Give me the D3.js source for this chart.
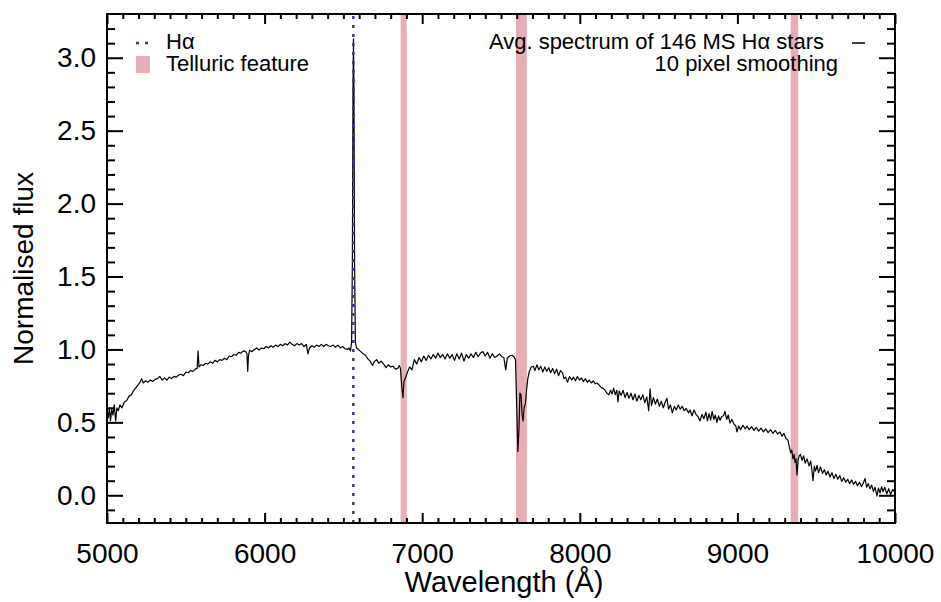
<!DOCTYPE html>
<html>
<head>
<meta charset="utf-8">
<script src="https://cdn.jsdelivr.net/npm/d3@7"></script>
<style>
  body { margin: 0; background: #fff; }
  text { font-family: "Liberation Sans", Arial, Helvetica, sans-serif; fill: #000; }
</style>
</head>
<body>
<div id="chart"></div>
<script>
// wavelength (A) and normalised flux, one line per stretch
const wave = [
  5000,5008,5015,5022,5030,5038,5046,5055,5063,5072,5082,5095,5110,5125,5140,5155,5170,5185,5200,
  5212,5220,5230,5245,5260,5275,5290,5305,5320,5335,5350,5365,5380,5395,5410,5425,5440,5455,5470,5485,5500,5515,5530,5545,5560,
  5572,5578,5584,5595,5610,5625,5640,5655,5670,5685,5700,5715,5730,5745,5760,5775,5790,5805,5820,5835,5850,5865,5880,
  5888,5893,5898,5905,5920,5935,5950,5965,5980,5995,6010,6025,6040,6055,6070,6085,6100,6115,6130,6145,6160,6175,6190,6205,6220,6235,6250,6265,
  6275,6285,6300,6315,6330,6345,6360,6375,6390,6405,6420,6435,6450,6465,6480,6495,6510,6525,6535,6545,6552,6557,6561,6564,6567,6571,6576,6583,
  6595,6610,6625,6640,6655,6670,6685,6695,6710,6725,6740,6755,6770,6785,6800,6815,6830,6845,6855,6862,6870,6878,6884,6892,6905,
  6920,6935,6950,6965,6980,6995,7010,7025,7040,7055,7070,7085,7100,7115,7130,7145,7160,7175,7190,7205,7220,7235,7250,7265,7280,7295,7310,7325,7340,7355,7370,7385,7400,7415,7430,7445,7460,7475,7490,7505,
  7518,7530,7540,7555,7570,7582,7592,7600,7607,7614,7620,7627,7634,7640,7647,7655,7662,7670,
  7680,7692,7705,7715,7728,7740,7752,7765,7778,7790,7803,7815,7828,7840,7853,7865,7878,7890,7900,7910,7922,7935,7948,7960,7972,7985,7998,8010,8023,8035,8048,8060,8073,8085,8098,8110,
  8123,8135,8147,8160,8172,8185,8195,8205,8215,8225,8235,8242,8250,8262,8275,8287,8300,8312,8325,8337,8350,8362,8375,8387,8400,8412,8425,8437,8446,8455,8467,8480,8492,8505,8517,8530,8542,8553,8563,8575,8587,8600,8612,8625,8637,8650,8662,8675,8690,8700,8712,8725,8737,8750,8763,8775,8787,8800,8810,8820,8830,8840,8850,8860,8870,8880,8890,8900,
  8912,8921,8932,8942,8953,8965,8977,8990,8997,9008,9020,9035,9050,9061,9075,9090,9105,9120,9135,9150,9165,9180,9195,9210,9226,9240,9255,9270,9283,9295,9308,9320,
  9330,9338,9345,9353,9360,9366,9372,9378,9385,9392,9400,9410,9420,9430,9442,9455,9465,9472,9480,9488,9496,9505,9515,9527,9540,9552,9563,9575,9588,9600,9612,9625,9637,9650,9662,9675,9687,9700,9712,9725,9737,9750,9762,9775,9787,9800,9810,9820,9830,9841,9852,9863,9873,9886,9895,9905,9915,9924,9935,9948,9960,9972,9985,10000
]
const flux = [
  0.58,0.53,0.60,0.51,0.59,0.55,0.62,0.51,0.60,0.58,0.62,0.60,0.64,0.65,0.68,0.69,0.72,0.74,0.76,
  0.78,0.80,0.77,0.785,0.775,0.79,0.78,0.795,0.80,0.815,0.79,0.805,0.79,0.81,0.80,0.815,0.81,0.825,0.83,0.82,0.845,0.84,0.855,0.85,0.865,
  0.87,0.99,0.88,0.895,0.89,0.905,0.90,0.915,0.905,0.925,0.915,0.93,0.925,0.94,0.93,0.955,0.95,0.965,0.96,0.98,0.975,0.99,0.985,
  0.97,0.85,0.96,0.995,0.985,1.00,1.01,0.995,1.01,1.005,1.02,1.01,1.025,1.015,1.03,1.02,1.035,1.025,1.04,1.03,1.05,1.035,1.025,1.04,1.03,1.04,1.02,1.035,
  0.97,1.01,1.025,1.015,1.03,1.02,1.035,1.02,1.035,1.025,1.02,1.03,1.015,1.03,1.01,1.02,1.005,1.00,1.01,0.99,1.05,1.6,2.8,3.13,2.8,1.6,1.05,1.01,
  1.00,0.985,0.97,0.96,0.935,0.92,0.89,0.915,0.93,0.905,0.92,0.90,0.875,0.895,0.88,0.885,0.865,0.87,0.89,0.87,0.75,0.67,0.78,0.80,0.84,
  0.88,0.86,0.93,0.90,0.945,0.915,0.955,0.925,0.96,0.935,0.965,0.94,0.975,0.945,0.965,0.935,0.97,0.94,0.965,0.925,0.97,0.935,0.975,0.92,0.965,0.94,0.97,0.945,0.98,0.95,0.975,0.985,0.955,0.98,0.94,0.97,0.945,0.955,0.97,0.95,
  0.945,0.86,0.94,0.955,0.96,0.95,0.93,0.60,0.30,0.45,0.70,0.69,0.55,0.51,0.60,0.63,0.72,0.80,
  0.85,0.88,0.885,0.855,0.895,0.86,0.885,0.845,0.88,0.85,0.875,0.84,0.87,0.835,0.865,0.82,0.855,0.84,0.80,0.81,0.775,0.815,0.79,0.81,0.785,0.815,0.79,0.805,0.78,0.80,0.775,0.79,0.77,0.785,0.765,0.77,
  0.755,0.74,0.735,0.72,0.70,0.69,0.72,0.695,0.735,0.69,0.72,0.64,0.715,0.685,0.72,0.67,0.705,0.665,0.70,0.655,0.695,0.645,0.685,0.655,0.69,0.635,0.675,0.58,0.73,0.615,0.67,0.625,0.66,0.61,0.645,0.60,0.64,0.665,0.59,0.62,0.565,0.61,0.585,0.62,0.59,0.61,0.58,0.595,0.565,0.585,0.545,0.585,0.555,0.54,0.51,0.555,0.525,0.57,0.51,0.56,0.515,0.575,0.52,0.55,0.50,0.545,0.515,0.54,
  0.545,0.575,0.52,0.55,0.495,0.52,0.49,0.475,0.435,0.475,0.45,0.48,0.455,0.475,0.45,0.47,0.445,0.465,0.44,0.46,0.435,0.455,0.43,0.45,0.425,0.445,0.42,0.435,0.405,0.425,0.39,0.38,
  0.33,0.29,0.31,0.25,0.28,0.225,0.25,0.14,0.24,0.27,0.28,0.24,0.27,0.22,0.25,0.20,0.235,0.18,0.10,0.20,0.165,0.205,0.155,0.195,0.15,0.175,0.14,0.165,0.125,0.155,0.115,0.145,0.11,0.135,0.095,0.12,0.09,0.11,0.08,0.105,0.075,0.095,0.065,0.09,0.06,0.085,0.115,0.055,0.08,0.045,0.07,0.025,0.055,-0.005,0.05,0.015,0.06,0.025,0.055,0.01,0.045,0.005,0.04,0.02
]

// telluric bands [start, end] in A
const telluric = [[6863, 6902], [7595, 7664], [9338, 9386]]
const halpha = 6563

const xTicks = [5000, 6000, 7000, 8000, 9000, 10000]
const yTicks = [0, 0.5, 1.0, 1.5, 2.0, 2.5, 3.0]

const data = wave.map((w, i) => ({w: w, f: flux[i]}))

const width = 941
const height = 602
const pLeft = 107, pRight = 895, pTop = 14, pBottom = 523

const svg = d3.select("#chart")
  .append("svg")
  .attr("width", width)
  .attr("height", height)

const x = d3.scaleLinear()
  .domain([5000, 10000])
  .range([pLeft, pRight])

const y = d3.scaleLinear()
  .domain([-0.19, 3.3])
  .range([pBottom, pTop])

// telluric bands
svg.selectAll("rect.tell")
  .data(telluric)
  .join("rect")
  .attr("class", "tell")
  .attr("x", d => x(d[0]))
  .attr("width", d => x(d[1]) - x(d[0]))
  .attr("y", pTop)
  .attr("height", pBottom - pTop)
  .attr("fill", "#e8aeb7")

// spectrum
const line = d3.line()
  .x(d => x(d.w))
  .y(d => y(d.f))

svg.append("path")
  .datum(data)
  .attr("d", line)
  .attr("fill", "none")
  .attr("stroke", "#000")
  .attr("stroke-width", 1.2)
  .attr("stroke-linejoin", "round")

// H-alpha marker
svg.append("line")
  .attr("x1", x(halpha)).attr("x2", x(halpha))
  .attr("y1", pTop + 2).attr("y2", pBottom)
  .attr("stroke", "#40309a")
  .attr("stroke-width", 2.5)
  .attr("stroke-dasharray", "3,6")

// axes
const xMinor = d3.range(5000, 10001, 100).filter(v => v % 1000 !== 0)
const yMinor = d3.range(-1, 33).map(v => v / 10).filter(v => Math.round(v * 10) % 5 !== 0)

function styleAxis(g) {
  g.select(".domain").remove()
  g.selectAll(".tick line").attr("stroke-width", 2)
  g.selectAll("text").style("font-size", "28px").attr("fill", "#000")
}

svg.append("g")
  .attr("transform", `translate(0,${pBottom})`)
  .call(d3.axisBottom(x).tickValues(xTicks).tickSize(-10).tickPadding(20).tickFormat(d3.format("d")))
  .call(styleAxis)
svg.append("g")
  .attr("transform", `translate(0,${pBottom})`)
  .call(d3.axisBottom(x).tickValues(xMinor).tickSize(-5).tickFormat(""))
  .call(styleAxis)
svg.append("g")
  .attr("transform", `translate(0,${pTop})`)
  .call(d3.axisTop(x).tickValues(xTicks).tickSize(-10).tickFormat(""))
  .call(styleAxis)
svg.append("g")
  .attr("transform", `translate(0,${pTop})`)
  .call(d3.axisTop(x).tickValues(xMinor).tickSize(-5).tickFormat(""))
  .call(styleAxis)

svg.append("g")
  .attr("transform", `translate(${pLeft},0)`)
  .call(d3.axisLeft(y).tickValues(yTicks).tickSize(-16).tickPadding(11).tickFormat(d3.format(".1f")))
  .call(styleAxis)
svg.append("g")
  .attr("transform", `translate(${pLeft},0)`)
  .call(d3.axisLeft(y).tickValues(yMinor).tickSize(-8).tickFormat(""))
  .call(styleAxis)
svg.append("g")
  .attr("transform", `translate(${pRight},0)`)
  .call(d3.axisRight(y).tickValues(yTicks).tickSize(-16).tickFormat(""))
  .call(styleAxis)
svg.append("g")
  .attr("transform", `translate(${pRight},0)`)
  .call(d3.axisRight(y).tickValues(yMinor).tickSize(-8).tickFormat(""))
  .call(styleAxis)

// frame
svg.append("rect")
  .attr("x", pLeft).attr("y", pTop)
  .attr("width", pRight - pLeft).attr("height", pBottom - pTop)
  .attr("fill", "none")
  .attr("stroke", "#000")
  .attr("stroke-width", 2)

// axis labels
svg.append("text")
  .attr("x", 504)
  .attr("y", 592)
  .attr("text-anchor", "middle")
  .style("font-size", "29px")
  .text("Wavelength (Å)")

svg.append("text")
  .attr("transform", "rotate(-90)")
  .attr("x", -(pTop + pBottom) / 2)
  .attr("y", 33)
  .attr("text-anchor", "middle")
  .style("font-size", "28px")
  .text("Normalised flux")

// legend, left
svg.append("line")
  .attr("x1", 136).attr("x2", 150)
  .attr("y1", 43).attr("y2", 43)
  .attr("stroke", "#40309a")
  .attr("stroke-width", 2.5)
  .attr("stroke-dasharray", "3,6")
svg.append("rect")
  .attr("x", 136).attr("y", 56)
  .attr("width", 14).attr("height", 17)
  .attr("fill", "#e8aeb7")
svg.append("text")
  .attr("x", 166).attr("y", 49)
  .style("font-size", "22px")
  .text("Hα")
svg.append("text")
  .attr("x", 166).attr("y", 71)
  .style("font-size", "22px")
  .text("Telluric feature")

// legend, right
svg.append("text")
  .attr("x", 824).attr("y", 49)
  .attr("text-anchor", "end")
  .style("font-size", "22px")
  .text("Avg. spectrum of 146 MS Hα stars")
svg.append("text")
  .attr("x", 838).attr("y", 71)
  .attr("text-anchor", "end")
  .style("font-size", "22px")
  .text("10 pixel smoothing")
svg.append("line")
  .attr("x1", 852).attr("x2", 865)
  .attr("y1", 43).attr("y2", 43)
  .attr("stroke", "#000")
  .attr("stroke-width", 1.5)
</script>
</body>
</html>
